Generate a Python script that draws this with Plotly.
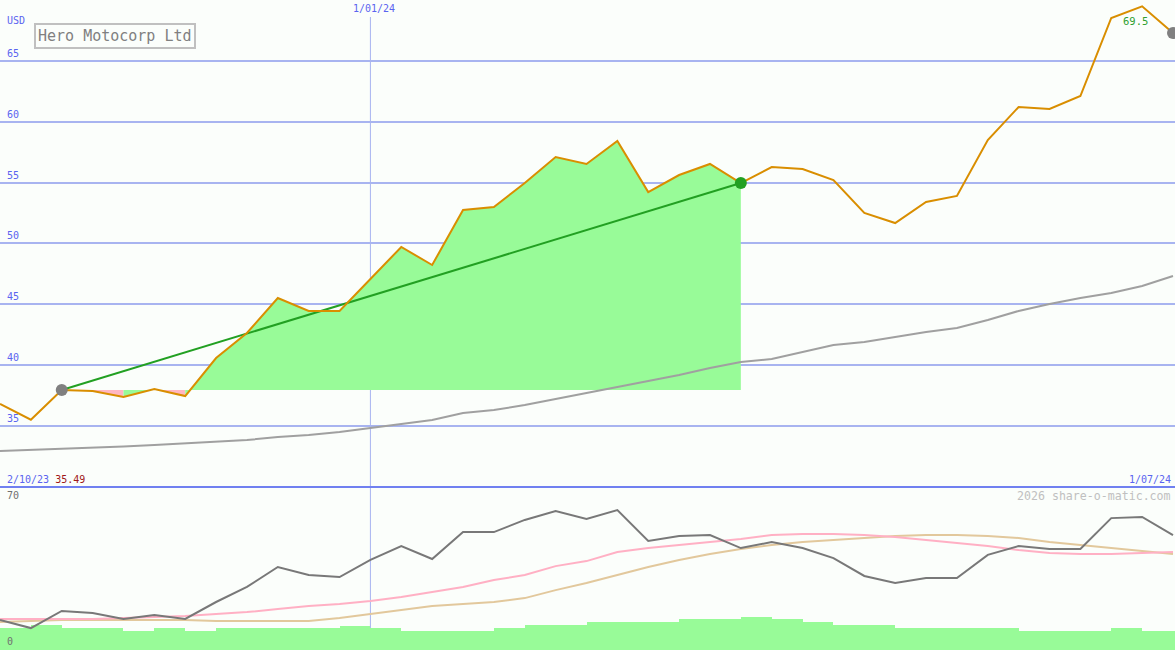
import pandas as pd
import plotly.graph_objects as go

# ---------------- data ----------------
dates = pd.date_range("2023-10-09", periods=39, freq="7D")

price = [36.79, 35.49, 37.94, 37.85, 37.36, 38.02, 37.44, 40.57, 42.63, 45.50,
         44.44, 44.44, 47.07, 49.70, 48.22, 52.74, 52.99, 54.96, 57.10, 56.53,
         58.42, 54.22, 55.62, 56.53, 54.96, 56.28, 56.12, 55.21, 52.50, 51.67,
         53.40, 53.90, 58.50, 61.22, 61.05, 62.12, 68.54, 69.50, 67.30]

ma_long = [32.92, 33.00, 33.08, 33.16, 33.29, 33.41, 33.54, 33.66, 33.82, 34.07,
           34.24, 34.48, 34.81, 35.14, 35.47, 36.05, 36.29, 36.70, 37.20, 37.69,
           38.18, 38.68, 39.17, 39.75, 40.24, 40.49, 41.06, 41.64, 41.89, 42.30,
           42.71, 43.04, 43.70, 44.44, 45.01, 45.50, 45.92, 46.49, 47.31]

osc = [13.1, 9.6, 17.1, 16.2, 13.6, 15.3, 13.6, 21.0, 27.6, 36.3,
       32.8, 31.9, 39.4, 45.5, 39.8, 51.6, 51.6, 56.9, 60.8, 57.3,
       61.2, 47.7, 49.9, 50.3, 44.6, 47.2, 44.6, 40.2, 32.4, 29.3,
       31.5, 31.5, 41.6, 45.5, 44.2, 44.2, 57.7, 58.2, 50.3]

osc_fast = [13.6, 13.6, 13.6, 13.6, 14.0, 14.4, 14.9, 15.7, 16.6, 17.9,
            19.2, 20.1, 21.4, 23.2, 25.4, 27.6, 30.6, 32.8, 36.7, 38.9,
            42.9, 44.6, 45.9, 47.2, 48.6, 50.3, 50.8, 50.8, 50.3, 49.4,
            48.1, 46.8, 45.5, 43.7, 42.4, 42.0, 42.0, 42.4, 42.9]

osc_slow = [12.2, 12.7, 13.1, 13.1, 13.1, 13.1, 13.1, 12.7, 12.7, 12.7,
            12.7, 14.0, 15.7, 17.5, 19.2, 20.1, 21.0, 22.7, 26.2, 29.3,
            32.8, 36.3, 39.4, 42.0, 44.2, 45.9, 47.2, 48.1, 49.0, 49.9,
            50.3, 50.3, 49.9, 49.0, 47.2, 45.9, 44.6, 43.3, 42.0]

volume = [9.6, 10.9, 9.6, 9.6, 8.3, 9.6, 8.3, 9.6, 9.6, 9.6,
          9.6, 10.5, 9.6, 8.3, 8.3, 8.3, 9.6, 10.9, 10.9, 12.2,
          12.2, 12.2, 13.6, 13.6, 14.4, 13.6, 12.2, 10.9, 10.9, 9.6,
          9.6, 9.6, 9.6, 8.3, 8.3, 8.3, 9.6, 8.3, 8.3]

start_idx, end_idx = 2, 24
price_ticks = [35, 40, 45, 50, 55, 60, 65]
title_text = "Hero Motocorp Ltd"
currency = "USD"
mid_date_label = "1/01/24"
mid_date = pd.Timestamp("2024-01-01")
left_label, left_value = "2/10/23", "35.49"
right_label = "1/07/24"
osc_top_label, osc_bottom_label = "70", "0"
max_label = "69.5"
credit = "2026 share-o-matic.com"

# ---------------- figure ----------------
W, H = 1175, 650
SPLIT = 487  # pixel row of the separator
main_dom = [(H - SPLIT) / H, 1.0]
low_dom = [0.0, (H - SPLIT) / H]

MONO = "DejaVu Sans Mono"
BLUE_TXT = "#5a64f0"
GRID = "#a8b4f0"
GREEN = "#98fb98"
PINK = "#ffb6c1"
ORANGE = "#d98e00"
BG = "#fbfefb"

fig = go.Figure()

base = price[start_idx]
# fill segments between price and baseline
seg_color = []
for i in range(start_idx, end_idx):
    seg_color.append(GREEN if price[i + 1] >= base else PINK)
runs = []
a = start_idx
for k in range(1, len(seg_color) + 1):
    if k == len(seg_color) or seg_color[k] != seg_color[k - 1]:
        b = start_idx + k
        runs.append((a, b, seg_color[k - 1]))
        a = b
for a, b, c in runs:
    xs = list(dates[a:b + 1]) + [dates[b], dates[a]]
    ys = price[a:b + 1] + [base, base]
    fig.add_trace(go.Scatter(x=xs, y=ys, fill="toself", fillcolor=c, mode="none",
                             line=dict(width=0), hoverinfo="skip", showlegend=False))

# long moving average
fig.add_trace(go.Scatter(x=dates, y=ma_long, mode="lines",
                         line=dict(color="#a0a0a0", width=2), showlegend=False))
# trend line
fig.add_trace(go.Scatter(x=[dates[start_idx], dates[end_idx]],
                         y=[price[start_idx], price[end_idx]], mode="lines",
                         line=dict(color="#22a022", width=2), showlegend=False))
# price
fig.add_trace(go.Scatter(x=dates, y=price, mode="lines",
                         line=dict(color=ORANGE, width=2), showlegend=False))
# markers
fig.add_trace(go.Scatter(x=[dates[start_idx], dates[-1]], y=[price[start_idx], price[-1]],
                         mode="markers", marker=dict(color="#808080", size=12),
                         showlegend=False, cliponaxis=False))
fig.add_trace(go.Scatter(x=[dates[end_idx]], y=[price[end_idx]], mode="markers",
                         marker=dict(color="#22a022", size=12), showlegend=False))

# lower panel
week_ms = 7 * 86400000
fig.add_trace(go.Bar(x=dates, y=volume, width=[week_ms] * len(dates), offset=0,
                     marker=dict(color=GREEN, line=dict(width=0)),
                     xaxis="x", yaxis="y2", showlegend=False))
fig.add_trace(go.Scatter(x=dates, y=osc_slow, mode="lines", line=dict(color="#e2c89c", width=2),
                         xaxis="x", yaxis="y2", showlegend=False))
fig.add_trace(go.Scatter(x=dates, y=osc_fast, mode="lines", line=dict(color="#ffb0c4", width=2),
                         xaxis="x", yaxis="y2", showlegend=False))
fig.add_trace(go.Scatter(x=dates, y=osc, mode="lines", line=dict(color="#787878", width=2),
                         xaxis="x", yaxis="y2", showlegend=False))

# axes
x0 = dates[0]
x1 = dates[0] + pd.Timedelta(days=7 * 38 * W / 1173)
px_per_unit = 12.157
main_lo = 65 - (SPLIT - 61) / px_per_unit
main_hi = 65 + 61 / px_per_unit
low_hi = 70 * (H - SPLIT) / (H - 490)

fig.update_layout(
    width=W, height=H, margin=dict(l=0, r=0, t=0, b=0),
    paper_bgcolor=BG, plot_bgcolor=BG,
    xaxis=dict(range=[x0, x1], showgrid=False, zeroline=False, showticklabels=False,
               showline=False, fixedrange=True),
    yaxis=dict(domain=main_dom, range=[main_lo, main_hi], tickvals=price_ticks,
               showticklabels=False, showgrid=True, gridcolor=GRID, gridwidth=2,
               zeroline=False, showline=False, fixedrange=True),
    yaxis2=dict(domain=low_dom, range=[0, low_hi], showgrid=False, zeroline=False,
                showticklabels=False, showline=False, fixedrange=True),
    bargap=0, showlegend=False, hovermode=False,
)

# vertical date line (below the fill)
fig.add_shape(type="line", xref="x", yref="paper", x0=mid_date, x1=mid_date,
              y0=low_dom[0], y1=(H - 17) / H, line=dict(color=GRID, width=1), layer="below")
# separator
fig.add_shape(type="line", xref="paper", yref="paper", x0=0, x1=1,
              y0=(H - SPLIT) / H, y1=(H - SPLIT) / H, line=dict(color="#7080f0", width=2))

ann = []
for v in price_ticks:
    ann.append(dict(x=5 / W, xref="paper", y=v, yref="y", text=str(v), showarrow=False,
                    xanchor="left", yanchor="bottom", yshift=0,
                    font=dict(family=MONO, size=10, color=BLUE_TXT)))
ann.append(dict(x=5 / W, xref="paper", y=1 - 20 / H, yref="paper", text=currency, showarrow=False,
                xanchor="left", yanchor="middle", font=dict(family=MONO, size=10, color=BLUE_TXT)))
ann.append(dict(x=mid_date, xref="x", y=1 - 9 / H, yref="paper", text=mid_date_label, showarrow=False,
                xanchor="center", yanchor="middle", xshift=4,
                font=dict(family=MONO, size=10, color=BLUE_TXT)))
ann.append(dict(x=5 / W, xref="paper", y=1 - 479 / H, yref="paper",
                text=f"{left_label} <span style='color:#a01818'>{left_value}</span>", showarrow=False,
                xanchor="left", yanchor="middle", font=dict(family=MONO, size=10, color=BLUE_TXT)))
ann.append(dict(x=1 - 2 / W, xref="paper", y=1 - 479 / H, yref="paper", text=right_label,
                showarrow=False, xanchor="right", yanchor="middle",
                font=dict(family=MONO, size=10, color=BLUE_TXT)))
ann.append(dict(x=1 - 2 / W, xref="paper", y=1 - 496 / H, yref="paper", text=credit,
                showarrow=False, xanchor="right", yanchor="middle",
                font=dict(family=MONO, size=11.6, color="#c0c0c0")))
ann.append(dict(x=5 / W, xref="paper", y=1 - 495 / H, yref="paper", text=osc_top_label,
                showarrow=False, xanchor="left", yanchor="middle",
                font=dict(family=MONO, size=10, color="#707070")))
ann.append(dict(x=5 / W, xref="paper", y=1 - 641 / H, yref="paper", text=osc_bottom_label,
                showarrow=False, xanchor="left", yanchor="middle",
                font=dict(family=MONO, size=10, color="#707070")))
imax = price.index(max(price))
ann.append(dict(x=dates[imax], xref="x", y=max(price), yref="y", text=max_label, showarrow=False,
                xanchor="right", yanchor="top", xshift=8, yshift=-7,
                font=dict(family=MONO, size=10.5, color="#30a030")))
ann.append(dict(x=115 / W, xref="paper", y=1 - 36 / H, yref="paper", text=title_text,
                showarrow=False, xanchor="center", yanchor="middle",
                bordercolor="#c0c0c0", borderwidth=2, borderpad=2, bgcolor=BG,
                font=dict(family=MONO, size=15, color="#808080")))
fig.update_layout(annotations=ann)

fig.write_html("out.html", config={"displayModeBar": False},
               post_script="document.body.style.margin='0';")
